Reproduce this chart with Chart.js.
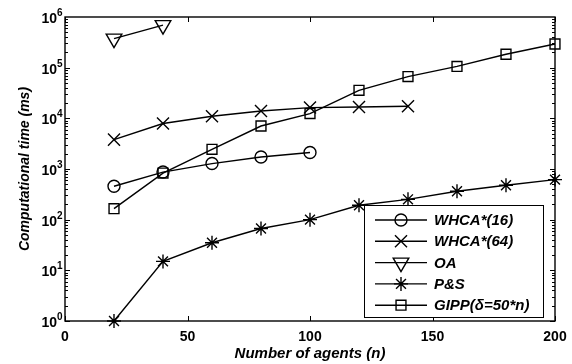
<!DOCTYPE html>
<html>
<head>
<meta charset="utf-8">
<script src="https://cdn.jsdelivr.net/npm/chart.js@4.4.0/dist/chart.umd.min.js"></script>
<style>
  html, body { margin: 0; padding: 0; background: #fff; }
  #wrap { width: 572px; height: 364px; }
</style>
</head>
<body>
<div id="wrap"><canvas id="graph" width="572" height="364"></canvas></div>
<script>
// number of agents (x)
let agents = [20, 40, 60, 80, 100, 120, 140, 160, 180, 200];

// computational time (ms) per method
let whca16 = [456, 870, 1280, 1730, 2110];
let whca64 = [3800, 7900, 11000, 14000, 16300, 16700, 17300];
let oa = [374000, 690000];
let ps = [1, 15, 35, 67, 100, 192, 252, 363, 478, 618];
let gipp = [165, 830, 2450, 7060, 12400, 35700, 66700, 106000, 184000, 293000];

// legend labels
let seriesLabels = ['WHCA*(16)', 'WHCA*(64)', 'OA', 'P&S', 'GIPP(\u03B4=50*n)'];

// axis ticks
let xTicks = [0, 50, 100, 150, 200];
let yExponents = [0, 1, 2, 3, 4, 5, 6];

const FONT = '"Liberation Sans", Arial, sans-serif';

function toPoints(values) {
  return values.map(function(v, i) { return {x: agents[i], y: v}; });
}

function makeSet(label, values, style, radius, rotation) {
  return {
    label: label,
    data: toPoints(values),
    borderColor: '#000',
    borderWidth: 1.4,
    backgroundColor: 'rgba(0,0,0,0)',
    pointStyle: style,
    pointRadius: radius,
    pointRotation: rotation || 0,
    pointBorderColor: '#000',
    pointBackgroundColor: 'rgba(0,0,0,0)',
    pointBorderWidth: 1.4,
    pointHoverRadius: radius,
    fill: false,
    tension: 0,
    clip: false
  };
}

/*
  axes box, ticks, labels and legend (MATLAB look)
*/
const matlabAxes = {
  id: 'matlabAxes',
  afterDraw: function(chart) {
    const ctx = chart.ctx;
    const xs = chart.scales.x;
    const ys = chart.scales.y;
    const a = chart.chartArea;

    ctx.save();
    ctx.strokeStyle = '#000';
    ctx.fillStyle = '#000';

    // box
    ctx.lineWidth = 1.4;
    ctx.strokeRect(a.left, a.top, a.right - a.left, a.bottom - a.top);

    // x ticks (inward, top and bottom)
    ctx.lineWidth = 1;
    xTicks.forEach(function(t) {
      const px = Math.round(xs.getPixelForValue(t)) + 0.5;
      ctx.beginPath();
      ctx.moveTo(px, a.bottom); ctx.lineTo(px, a.bottom - 5);
      ctx.moveTo(px, a.top); ctx.lineTo(px, a.top + 5);
      ctx.stroke();
    });

    // y ticks (major + minor, left and right)
    for (let e = 0; e < 6; e++) {
      for (let m = 1; m <= 9; m++) {
        const py = Math.round(ys.getPixelForValue(m * Math.pow(10, e))) + 0.5;
        const len = (m == 1) ? 5 : 3;
        ctx.beginPath();
        ctx.moveTo(a.left, py); ctx.lineTo(a.left + len, py);
        ctx.moveTo(a.right, py); ctx.lineTo(a.right - len, py);
        ctx.stroke();
      }
    }

    // x tick labels
    ctx.font = 'bold 14px ' + FONT;
    ctx.textAlign = 'center';
    ctx.textBaseline = 'alphabetic';
    xTicks.forEach(function(t) {
      ctx.fillText(String(t), xs.getPixelForValue(t), a.bottom + 20);
    });

    // y tick labels 10^n
    yExponents.forEach(function(e) {
      const py = ys.getPixelForValue(Math.pow(10, e));
      ctx.font = 'bold 14px ' + FONT;
      ctx.textAlign = 'right';
      ctx.textBaseline = 'alphabetic';
      ctx.fillText('10', 57, py + 6);
      ctx.font = 'bold 10px ' + FONT;
      ctx.textAlign = 'left';
      ctx.fillText(String(e), 57, py - 1);
    });

    // axis titles
    ctx.font = 'italic bold 15px ' + FONT;
    ctx.textAlign = 'center';
    ctx.textBaseline = 'alphabetic';
    ctx.fillText('Number of agents (n)', (a.left + a.right) / 2, 358);
    ctx.font = 'italic bold 14px ' + FONT;
    ctx.save();
    ctx.translate(29, (a.top + a.bottom) / 2);
    ctx.rotate(-Math.PI / 2);
    ctx.fillText('Computational time (ms)', 0, 0);
    ctx.restore();

    // legend
    const lx = 364, ly = 205, lw = 179, lh = 112;
    ctx.fillStyle = '#fff';
    ctx.fillRect(lx, ly, lw, lh);
    ctx.lineWidth = 1;
    ctx.strokeRect(lx + 0.5, ly + 0.5, lw, lh);
    chart.data.datasets.forEach(function(ds, i) {
      const ry = ly + 15 + i * 21.3;
      ctx.strokeStyle = '#000';
      ctx.lineWidth = 1.4;
      ctx.beginPath();
      ctx.moveTo(lx + 11, ry); ctx.lineTo(lx + 63, ry);
      ctx.stroke();
      ctx.fillStyle = 'rgba(0,0,0,0)';
      Chart.helpers.drawPoint(ctx, {
        pointStyle: ds.pointStyle,
        rotation: ds.pointRotation,
        radius: ds.pointRadius,
        borderWidth: 1.4
      }, lx + 37, ry);
      ctx.fillStyle = '#000';
      ctx.font = 'italic bold 15px ' + FONT;
      ctx.textAlign = 'left';
      ctx.textBaseline = 'middle';
      ctx.fillText(seriesLabels[i], lx + 70, ry + 1);
    });

    ctx.restore();
  }
};

let graph = new Chart(document.getElementById('graph'), {
  type: 'line',
  data: {
    datasets: [
      makeSet(seriesLabels[0], whca16, 'circle', 6),
      makeSet(seriesLabels[1], whca64, 'crossRot', 8.5),
      makeSet(seriesLabels[2], oa, 'triangle', 9, 180),
      makeSet(seriesLabels[3], ps, 'star', 7),
      makeSet(seriesLabels[4], gipp, 'rect', 7)
    ]
  },
  options: {
    responsive: false,
    animation: false,
    layout: { padding: { left: 65, right: 17, top: 17, bottom: 43 } },
    plugins: {
      legend: { display: false },
      tooltip: { enabled: false }
    },
    scales: {
      x: { type: 'linear', min: 0, max: 200, display: false },
      y: { type: 'logarithmic', min: 1, max: 1000000, display: false }
    }
  },
  plugins: [matlabAxes]
});
</script>
</body>
</html>
